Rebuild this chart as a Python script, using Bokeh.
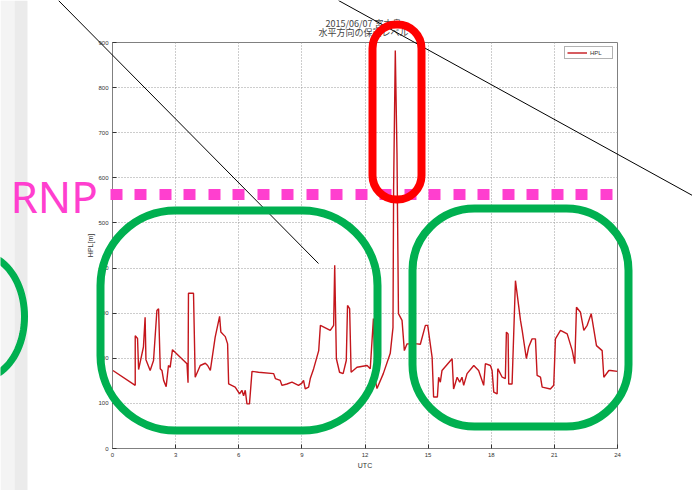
import numpy as np
from bokeh.plotting import figure
from bokeh.models import Range1d, FixedTicker, BoxAnnotation
from bokeh.core.properties import value
from bokeh.embed import file_html
from bokeh.resources import INLINE

# ---------------- data ----------------
hours = [0.02, 1.08, 1.08, 1.19, 1.24, 1.47, 1.55, 1.59, 1.79, 1.95,
         2.11, 2.19, 2.27, 2.35, 2.43, 2.55, 2.66, 2.74, 2.85, 3.54,
         3.59, 3.61, 3.85, 3.93, 4.17, 4.41, 4.52, 4.65, 4.88, 5.09,
         5.15, 5.36, 5.47, 5.52, 5.83, 6.04, 6.15, 6.23, 6.31, 6.39,
         6.51, 6.63, 6.94, 7.66, 7.74, 7.97, 8.05, 8.29, 8.53, 8.84,
         9.00, 9.08, 9.16, 9.32, 9.40, 9.56, 9.80, 9.88, 10.35, 10.51,
         10.56, 10.64, 10.79, 10.96, 11.11, 11.17, 11.27, 11.34, 11.62, 12.10,
         12.25, 12.40, 12.49, 12.57, 12.87, 13.20, 13.33, 13.36, 13.44, 13.52,
         13.59, 13.76, 13.87, 14.00, 14.47, 14.63, 14.87, 14.98, 15.19, 15.26,
         15.44, 15.50, 15.58, 15.66, 16.14, 16.21, 16.38, 16.50, 16.61, 16.69,
         16.85, 17.17, 17.40, 17.64, 17.72, 17.96, 18.04, 18.12, 18.28, 18.31,
         18.52, 18.67, 18.72, 18.80, 18.83, 18.99, 19.15, 19.39, 19.47, 19.67,
         19.78, 19.94, 20.10, 20.18, 20.34, 20.42, 20.81, 20.97, 21.05, 21.29,
         21.61, 21.85, 21.97, 22.05, 22.24, 22.40, 22.56, 22.75, 22.87, 23.00,
         23.27, 23.35, 23.59, 23.67, 24.00]
hpl = [173, 140, 250, 244, 175, 225, 291, 197, 173, 195,
       306, 310, 177, 173, 151, 137, 184, 180, 219, 188,
       146, 344, 344, 158, 184, 189, 184, 173, 247, 293,
       258, 248, 232, 143, 136, 121, 129, 117, 129, 99,
       99, 171, 169, 166, 155, 151, 140, 143, 147, 140,
       145, 151, 132, 136, 155, 177, 217, 273, 262, 273,
       406, 199, 169, 166, 195, 317, 310, 169, 180, 184,
       177, 288, 151, 133, 166, 211, 268, 579, 882, 654,
       299, 284, 217, 232, 232, 231, 273, 273, 202, 114,
       114, 158, 147, 173, 199, 132, 158, 147, 158, 140,
       166, 184, 173, 140, 188, 184, 173, 125, 121, 177,
       158, 155, 258, 254, 143, 143, 372, 284, 262, 199,
       225, 243, 243, 162, 158, 136, 132, 140, 243, 262,
       254, 217, 188, 313, 302, 262, 273, 299, 265, 228,
       217, 158, 173, 173, 171]
x_ticks = [0, 3, 6, 9, 12, 15, 18, 21, 24]
y_ticks = [0, 100, 200, 300, 400, 500, 600, 700, 800, 900]
title_lines = ["2015/06/07 宮古島", "水平方向の保護レベル"]
x_title = "UTC"
y_title = "HPL[m]"
series_name = "HPL"
rnp_text = "RNP"

# ---------------- chart ----------------
W, H = 692, 490
FL, FR, FT, FB = 112, 617, 42, 448   # frame edges in pixels

p = figure(width=W, height=H, output_backend="svg", toolbar_location=None,
           x_range=Range1d(0, 24), y_range=Range1d(0, 900),
           min_border_left=FL, min_border_right=W - FR,
           min_border_top=FT, min_border_bottom=H - FB,
           background_fill_color="white", border_fill_color="white")

p.line(hours, hpl, line_color="#c4161c", line_width=1.4, legend_label=series_name)

for ax in (p.xaxis[0], p.yaxis[0]):
    ax.major_label_text_font_size = "6px"
    ax.major_label_text_color = "#333333"
    ax.major_label_text_font = "Liberation Sans"
    ax.major_tick_in = 4
    ax.major_tick_out = 0
    ax.minor_tick_line_color = None
    ax.axis_line_color = "#808080"
    ax.major_tick_line_color = "#333333"
    ax.axis_label_text_font_size = "7px"
    ax.axis_label_text_font_style = "normal"
    ax.axis_label_text_font = "Liberation Sans"
    ax.axis_label_text_color = "#333333"
p.xaxis.ticker = FixedTicker(ticks=x_ticks)
p.yaxis.ticker = FixedTicker(ticks=y_ticks)
p.xaxis.axis_label = x_title
p.yaxis.axis_label = y_title
p.xaxis.major_label_standoff = 4
p.xaxis.axis_label_standoff = 2
p.yaxis.major_label_standoff = 4
p.yaxis.axis_label_standoff = 1

p.grid.grid_line_color = "#9a9a9a"
p.grid.grid_line_dash = "1 2"
p.xgrid.ticker = FixedTicker(ticks=x_ticks)
p.ygrid.ticker = FixedTicker(ticks=y_ticks)
p.outline_line_color = "#808080"

lg = p.legend[0]
lg.location = "top_right"
lg.margin = 4
lg.padding = 2
lg.spacing = 0
lg.glyph_width = 20
lg.glyph_height = 7
lg.label_height = 7
lg.label_standoff = 3
lg.label_text_font_size = "6px"
lg.label_text_font = "Liberation Sans"
lg.label_text_color = "#333333"
lg.border_line_color = "#666666"

# ---------------- overlay (markup drawn on the photo) ----------------
o = figure(width=W, height=H, output_backend="svg", toolbar_location=None,
           x_range=Range1d(0, W), y_range=Range1d(0, H),
           x_axis_type=None, y_axis_type=None, min_border=0,
           background_fill_color=None, border_fill_color=None,
           outline_line_color=None, margin=(-H, 0, 0, 0))
o.grid.visible = False


def Y(py):
    return H - py


# light grey strip at the left edge of the photo
o.quad(left=[0, 14], right=[14, 27], bottom=[0, 0], top=[H, H],
       fill_color=["#f4f4f4", "#ebebeb"], line_color=None)

# title (two lines)
o.text(x=[363, 363], y=[Y(23), Y(32)], text=title_lines, text_align="center",
       text_baseline="middle", text_font=value("Noto Sans CJK JP"),
       text_font_size=value("9px"), text_color="#444444")

GREEN = "#00b050"
MAGENTA = "#ff3fcf"

t = np.linspace(0, 2 * np.pi, 90)
ecx, ecy, ea, eb = -20, 316, 44, 62
o.line(ecx + ea * np.cos(t), Y(ecy + eb * np.sin(t)), line_color=GREEN, line_width=7)

for (l, r, tp, bt, rad, col) in [(100, 377, 210, 430, 75, GREEN),
                                 (412, 628, 208, 426, 62, GREEN),
                                 (372, 421, 24, 199, 24, "#ff0000")]:
    o.add_layout(BoxAnnotation(left=l, right=r, top=Y(tp), bottom=Y(bt),
                               fill_alpha=0, line_color=col, line_alpha=1,
                               line_width=8, border_radius=rad))

o.line([110, 612], [Y(194), Y(194)], line_color=MAGENTA, line_width=11,
       line_dash="12 12 12 13")
o.text(x=[10], y=[Y(195)], text=[rnp_text], text_align="left",
       text_baseline="alphabetic", text_font=value("Noto Sans"),
       text_font_size=value("44px"), text_color=MAGENTA)

o.line([58, 318], [Y(0), Y(263)], line_color="black", line_width=1)
o.line([338, 692], [Y(0), Y(195)], line_color="black", line_width=1)

open("out.html", "w").write(file_html([p, o], INLINE))
